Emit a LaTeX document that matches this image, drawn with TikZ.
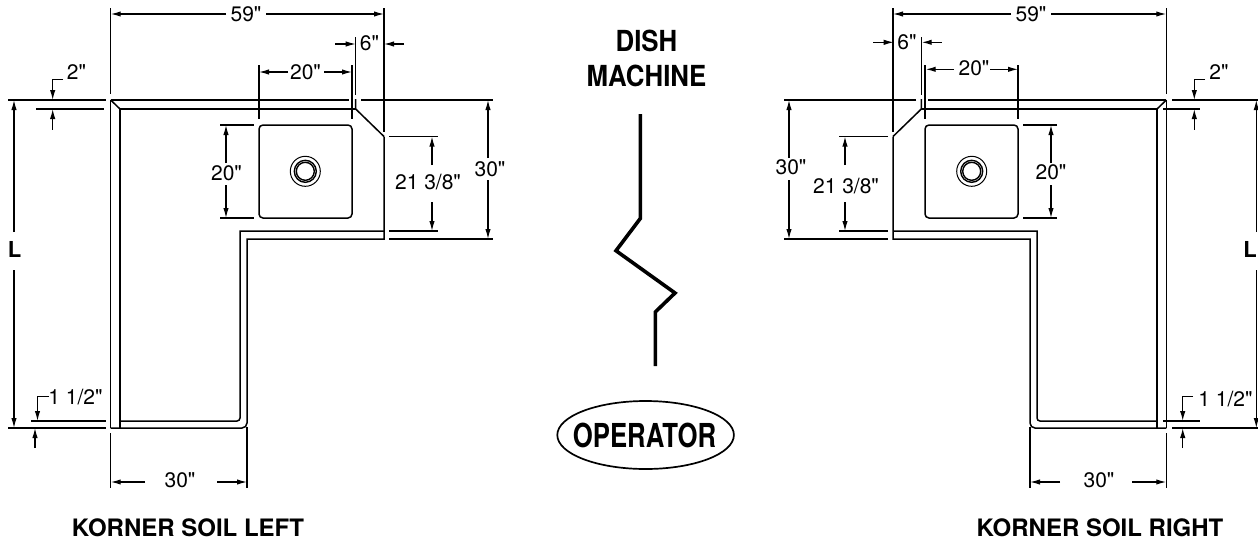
\documentclass[tikz,border=0pt]{standalone}
\usepackage{fontspec}
\newfontfamily\hv{TeX Gyre Heros}
\usetikzlibrary{arrows.meta}
\tikzset{
  wall/.style={line width=1.5pt,line join=miter},
  thin line/.style={line width=1.2pt},
  dimA/.style={line width=1.2pt,-{Latex[length=10pt,width=5.4pt]}},
  dimtext/.style={font=\hv\fontsize{21}{21}\selectfont,inner sep=0pt,text=black},
  title/.style={font=\hv\fontsize{24}{24}\selectfont\bfseries,inner sep=0pt},
  letterL/.style={font=\hv\fontsize{22}{22}\selectfont\bfseries,inner sep=0pt},
  bigbold/.style={font=\hv\fontsize{29}{29}\selectfont\bfseries,inner sep=0pt,xscale=0.89},
  opbold/.style={font=\hv\fontsize{33}{33}\selectfont\bfseries,inner sep=0pt,xscale=0.78},
}
\newcommand{\cabinet}{%
  % top and front faces
  \draw[wall] (110.7,100) -- (110.7,428);
  \draw[wall] (120,109) -- (120,428);
  \draw[wall] (110.7,100) -- (120,109);
  \draw[wall] (110.7,100) -- (349,100);
  \draw[wall] (120,109) -- (355.7,109);
  \draw[wall] (355.7,99) -- (355.7,109) -- (384,136.5);
  \draw[wall] (384,136.5) -- (384,239) -- (247,239) -- (247,423) arc[start angle=0,end angle=90,radius=5] -- (110.7,428);
  \draw[wall] (384,231) -- (240,231) -- (240,418) arc[start angle=0,end angle=90,radius=3] -- (120,421);
  % sink
  \draw[wall,rounded corners=4pt] (259,125) rectangle (352,218);
  \draw[line width=1pt] (305.3,171.3) circle[radius=15];
  \draw[line width=1.4pt] (305.3,171.3) circle[radius=11];
  \draw[line width=1.4pt] (305.3,171.3) circle[radius=9];
  % extensions shared by both hands
  \draw[thin line] (110.7,433) -- (110.7,488);
  \draw[thin line] (247,427) -- (247,488);
  \draw[thin line] (110.7,8) -- (110.7,94);
  \draw[thin line] (384,8) -- (384,132);
  \draw[thin line] (355.7,37) -- (355.7,95);
  \draw[thin line] (259,65) -- (259,119);
  \draw[thin line] (352,65) -- (352,119);
  % 59 in and 30 in dimension lines
  \draw[dimA] (226,14) -- (110.7,14);
  \draw[dimA] (266,14) -- (384,14);
  \draw[dimA] (145,482) -- (110.7,482);
  \draw[dimA] (217,482) -- (247,482);
  % 20 in sink depth
  \draw[thin line] (220,125) -- (254,125);
  \draw[thin line] (220,218) -- (254,218);
  \draw[dimA] (226,163) -- (226,125);
  \draw[dimA] (226,185) -- (226,218);
  % horizontal extension lines past the notch
  \draw[thin line] (361,100) -- (493,100);
  \draw[thin line] (389,239) -- (493,239);
  \draw[thin line] (389,136.5) -- (438,136.5);
  \draw[thin line] (389,231) -- (438,231);
  % 30 in and 21 3/8 in
  \draw[dimA] (488,158) -- (488,100);
  \draw[dimA] (488,180) -- (488,239);
  \draw[dimA] (432,165) -- (432,136.5);
  \draw[dimA] (432,202) -- (432,231);
}
\begin{document}
\begin{tikzpicture}[x=1pt,y=-1pt]
\useasboundingbox (0,0) rectangle (1258,542);
\fill[white] (0,0) rectangle (1258,542);

% LEFT UNIT
\begin{scope}
  \cabinet
  % overall L
  \draw[thin line] (8,100) -- (106,100);
  \draw[thin line] (36,109) -- (104,109);
  \draw[thin line] (8,428) -- (106,428);
  \draw[thin line] (31,421) -- (106,421);
  \draw[dimA] (14,232) -- (14,100);
  \draw[dimA] (14,270) -- (14,428);
  % 2 in
  \draw[dimA] (63,79.3) -- (52.7,79.3) -- (52.7,100);
  \draw[dimA] (52.7,129.5) -- (52.7,109);
  % 1 1/2 in
  \draw[dimA] (49,396.7) -- (37.5,396.7) -- (37.5,421);
  \draw[dimA] (35,448) -- (35,428);
  % 20 in sink width
  \draw[dimA] (288,72) -- (259,72);
  \draw[dimA] (324,72) -- (352,72);
  % 6 in
  \draw[dimA] (335,44) -- (355.7,44);
  \draw[dimA] (404,44) -- (384,44);
\end{scope}
\node[dimtext] (l59) at (246,14) {59"};
\node[dimtext] (l20a) at (305.5,72) {20"};
\node[dimtext] (l6) at (369.5,43.5) {6"};
\node[dimtext] (l2) at (76.5,72.5) {2"};
\node[dimtext] (l112) at (75.5,397) {1 1/2"};
\node[dimtext] (l20b) at (226.5,173.5) {20"};
\node[dimtext] (l21) at (428,182) {21 3/8"};
\node[dimtext] (l30a) at (490,169) {30"};
\node[dimtext] (l30b) at (180,480) {30"};
\node[letterL] (lL) at (14.5,249) {L};
\node[title] (ltitle) at (188,527.7) {KORNER SOIL LEFT};

% RIGHT UNIT
\begin{scope}[xshift=1277pt,xscale=-1]
  \cabinet
\end{scope}
\draw[thin line] (1172,100) -- (1258,100);
\draw[thin line] (1163,109) -- (1200,109);
\draw[thin line] (1172,428) -- (1258,428);
\draw[thin line] (1163,421) -- (1200,421);
\draw[dimA] (1256.3,232) -- (1256.3,100);
\draw[dimA] (1256.3,270) -- (1256.3,428);
\draw[dimA] (1205,79.3) -- (1194.3,79.3) -- (1194.3,100);
\draw[dimA] (1194.3,129.5) -- (1194.3,109);
\draw[dimA] (1193,396.7) -- (1182.7,396.7) -- (1182.7,421);
\draw[dimA] (1182.7,448) -- (1182.7,428);
\draw[dimA] (954,69.3) -- (925.7,69.3);
\draw[dimA] (990,69.3) -- (1018,69.3);
\draw[dimA] (873,42.3) -- (893.7,42.3);
\draw[dimA] (941.7,42.3) -- (921.7,42.3);
\node[dimtext] (r59) at (1031,14) {59"};
\node[dimtext] (r20a) at (974,68.5) {20"};
\node[dimtext] (r6) at (907,42.5) {6"};
\node[dimtext] (r2) at (1219,72.5) {2"};
\node[dimtext] (r112) at (1225.5,399) {1 1/2"};
\node[dimtext] (r20b) at (1051,172) {20"};
\node[dimtext] (r21) at (846,186) {21 3/8"};
\node[dimtext] (r30a) at (791,167) {30"};
\node[dimtext] (r30b) at (1099,480) {30"};
\node[letterL,anchor=east] (rL) at (1257,249) {L};
\node[title] (rtitle) at (1100,527.7) {KORNER SOIL RIGHT};

% CENTRE
\node[bigbold] (dish) at (646.5,40.5) {DISH};
\node[bigbold] (machine) at (646.5,75.5) {MACHINE};
\draw[line width=3.6pt,line join=miter] (640.3,114) -- (640.3,218.5) -- (616,250.7) -- (675,293) -- (655.3,312) -- (655.3,366);
\draw[line width=1.7pt] (645.6,435) ellipse[x radius=88.3,y radius=34];
\node[opbold] (op) at (644.5,435) {OPERATOR};
\end{tikzpicture}
\end{document}
